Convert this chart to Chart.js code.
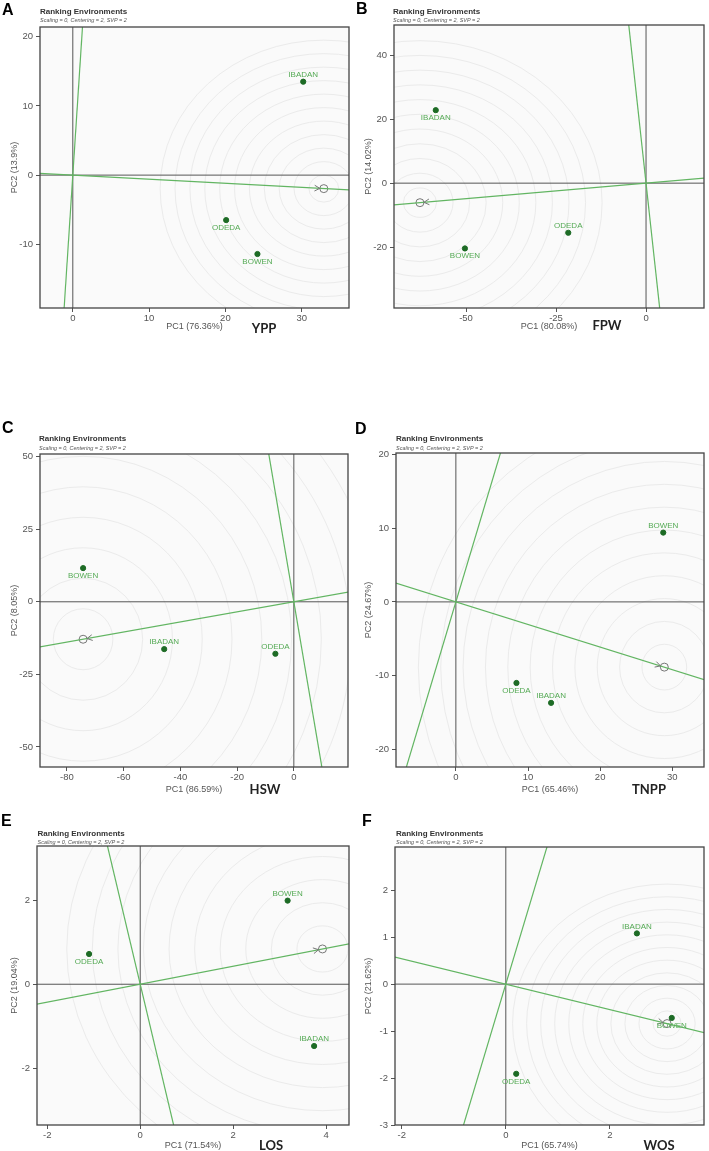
<!DOCTYPE html>
<html>
<head>
<meta charset="utf-8">
<script src="https://cdn.jsdelivr.net/npm/chart.js@4.4.0/dist/chart.umd.min.js"></script>
<style>
  body { margin: 0; background: #fff; width: 709px; height: 1151px; position: relative; overflow: hidden;
         font-family: "Liberation Sans", Arial, sans-serif; }
  canvas { position: absolute; }
  .lbl { position: absolute; white-space: nowrap; line-height: 1; }
  .letter { font-weight: bold; font-size: 16px; color: #000; }
  .ttl { font-weight: bold; font-size: 8px; color: #333; }
  .sub { font-style: italic; font-size: 5.5px; color: #555; }
  .trait { font-family: Lato, "Open Sans", sans-serif; font-weight: bold; font-size: 13px; color: #222;
           transform: translateX(-50%); }
</style>
</head>
<body>
<script>
// environments, same order in every panel
const envNames = ['IBADAN', 'BOWEN', 'ODEDA'];

// A - YPP
const yppPC1 = [30.2, 24.2, 20.1];
const yppPC2 = [13.5, -11.4, -6.5];
const yppIdeal = [32.9, -1.95];
const yppXTicks = [0, 10, 20, 30];
const yppYTicks = [-10, 0, 10, 20];

// B - FPW
const fpwPC1 = [-58.4, -50.3, -21.6];
const fpwPC2 = [22.8, -20.4, -15.5];
const fpwIdeal = [-62.8, -6.1];
const fpwXTicks = [-50, -25, 0];
const fpwYTicks = [-20, 0, 20, 40];

// C - HSW
const hswPC1 = [-45.7, -74.3, -6.5];
const hswPC2 = [-16.3, 11.6, -17.9];
const hswIdeal = [-74.3, -12.9];
const hswXTicks = [-80, -60, -40, -20, 0];
const hswYTicks = [-50, -25, 0, 25, 50];

// D - TNPP
const tnppPC1 = [13.2, 28.75, 8.4];
const tnppPC2 = [-13.7, 9.4, -11.0];
const tnppIdeal = [28.9, -8.85];
const tnppXTicks = [0, 10, 20, 30];
const tnppYTicks = [-20, -10, 0, 10, 20];

// E - LOS
const losPC1 = [3.74, 3.17, -1.1];
const losPC2 = [-1.47, 1.99, 0.72];
const losIdeal = [3.92, 0.84];
const losXTicks = [-2, 0, 2, 4];
const losYTicks = [-2, 0, 2];

// F - WOS
const wosPC1 = [2.52, 3.19, 0.2];
const wosPC2 = [1.08, -0.72, -1.91];
const wosIdeal = [3.1, -0.84];
const wosXTicks = [-2, 0, 2];
const wosYTicks = [-3, -2, -1, 0, 1, 2];

const FONT = '"Liberation Sans", Arial, sans-serif';

const panels = [
  { letter: 'A', trait: 'YPP', pc1: yppPC1, pc2: yppPC2, ideal: yppIdeal, xt: yppXTicks, yt: yppYTicks,
    xTitle: 'PC1 (76.36%)', yTitle: 'PC2 (13.9%)', xr: [-4.3, 36.2], yr: [-19.2, 21.4],
    ring: [1.95, 11], lab: [1, -1, -1],
    box: [0, 0, 354, 332], area: [40, 27, 350, 308],
    letterPos: [2, 1.5], ttlPos: [40, 7.9, 18], traitPos: [264, 322] },
  { letter: 'B', trait: 'FPW', pc1: fpwPC1, pc2: fpwPC2, ideal: fpwIdeal, xt: fpwXTicks, yt: fpwYTicks,
    xTitle: 'PC1 (80.08%)', yTitle: 'PC2 (14.02%)', xr: [-70, 16.1], yr: [-39, 49.4],
    ring: [4.6, 11], lab: [-1, -1, 1],
    box: [354, 0, 355, 332], area: [394, 25, 704, 308],
    letterPos: [356, 1], ttlPos: [393, 7.9, 18], traitPos: [607, 319] },
  { letter: 'C', trait: 'HSW', pc1: hswPC1, pc2: hswPC2, ideal: hswIdeal, xt: hswXTicks, yt: hswYTicks,
    xTitle: 'PC1 (86.59%)', yTitle: 'PC2 (8.05%)', xr: [-89.5, 19.1], yr: [-56.9, 50.9],
    ring: [10.5, 10], lab: [1, -1, 1],
    box: [0, 380, 354, 415], area: [40, 454, 348, 767],
    letterPos: [2, 420], ttlPos: [39, 434.5, 445.7], traitPos: [265, 783] },
  { letter: 'D', trait: 'TNPP', pc1: tnppPC1, pc2: tnppPC2, ideal: tnppIdeal, xt: tnppXTicks, yt: tnppYTicks,
    xTitle: 'PC1 (65.46%)', yTitle: 'PC2 (24.67%)', xr: [-8.3, 34.4], yr: [-22.4, 20.2],
    ring: [3.1, 11], lab: [1, 1, -1],
    box: [354, 380, 355, 415], area: [396, 453, 704, 767],
    letterPos: [355, 421], ttlPos: [396, 435.2, 446.4], traitPos: [649, 783] },
  { letter: 'E', trait: 'LOS', pc1: losPC1, pc2: losPC2, ideal: losIdeal, xt: losXTicks, yt: losYTicks,
    xTitle: 'PC1 (71.54%)', yTitle: 'PC2 (19.04%)', xr: [-2.22, 4.49], yr: [-3.35, 3.29],
    ring: [0.55, 10], lab: [1, 1, -1],
    box: [0, 760, 354, 391], area: [37, 846, 350, 1125],
    letterPos: [1, 813], ttlPos: [37.5, 829.5, 839.7], traitPos: [271, 1139] },
  { letter: 'F', trait: 'WOS', pc1: wosPC1, pc2: wosPC2, ideal: wosIdeal, xt: wosXTicks, yt: wosYTicks,
    xTitle: 'PC1 (65.74%)', yTitle: 'PC2 (21.62%)', xr: [-2.13, 3.81], yr: [-3.0, 2.92],
    ring: [0.27, 11], lab: [1, -1, -1],
    box: [354, 760, 355, 391], area: [395, 847, 707, 1125],
    letterPos: [362, 813], ttlPos: [396, 830.2, 840.4], traitPos: [659, 1139] }
];

function addText(cls, text, x, y) {
  const d = document.createElement('div');
  d.className = 'lbl ' + cls;
  d.textContent = text;
  d.style.left = x + 'px';
  d.style.top = y + 'px';
  document.body.appendChild(d);
}

// a long line through the origin along dir, clipped by the chart area
function lineThrough(dir) {
  return [{ x: -20 * dir[0], y: -20 * dir[1] }, { x: 20 * dir[0], y: 20 * dir[1] }];
}

// rings, zero axes, frame, arrow and env labels
function ggePlugin(p) {
  return {
    id: 'gge' + p.letter,
    beforeDatasetsDraw(chart) {
      const ctx = chart.ctx, a = chart.chartArea;
      const xs = chart.scales.x, ys = chart.scales.y;
      ctx.save();
      ctx.fillStyle = '#fafafa';
      ctx.fillRect(a.left, a.top, a.width, a.height);
      ctx.beginPath();
      ctx.rect(a.left, a.top, a.width, a.height);
      ctx.clip();
      const cx = xs.getPixelForValue(p.ideal[0]), cy = ys.getPixelForValue(p.ideal[1]);
      const ux = Math.abs(xs.getPixelForValue(1) - xs.getPixelForValue(0));
      const uy = Math.abs(ys.getPixelForValue(1) - ys.getPixelForValue(0));
      ctx.strokeStyle = '#ebebeb';
      ctx.lineWidth = 1;
      for (let k = 1; k <= p.ring[1]; k++) {
        ctx.beginPath();
        ctx.ellipse(cx, cy, k * p.ring[0] * ux, k * p.ring[0] * uy, 0, 0, Math.PI * 2);
        ctx.stroke();
      }
      // zero lines
      const ox = xs.getPixelForValue(0), oy = ys.getPixelForValue(0);
      ctx.strokeStyle = '#555';
      ctx.lineWidth = 1;
      ctx.beginPath();
      ctx.moveTo(ox, a.top); ctx.lineTo(ox, a.bottom);
      ctx.moveTo(a.left, oy); ctx.lineTo(a.right, oy);
      ctx.stroke();
      ctx.restore();
    },
    afterDatasetsDraw(chart) {
      const ctx = chart.ctx, a = chart.chartArea;
      const xs = chart.scales.x, ys = chart.scales.y;
      ctx.save();
      // arrow head pointing at the ideal environment
      const cx = xs.getPixelForValue(p.ideal[0]), cy = ys.getPixelForValue(p.ideal[1]);
      const ox = xs.getPixelForValue(0), oy = ys.getPixelForValue(0);
      const ang = Math.atan2(cy - oy, cx - ox);
      const tx = cx - 4 * Math.cos(ang), ty = cy - 4 * Math.sin(ang);
      ctx.strokeStyle = '#777';
      ctx.lineWidth = 1;
      ctx.beginPath();
      ctx.moveTo(tx - 6 * Math.cos(ang - 0.5), ty - 6 * Math.sin(ang - 0.5));
      ctx.lineTo(tx, ty);
      ctx.lineTo(tx - 6 * Math.cos(ang + 0.5), ty - 6 * Math.sin(ang + 0.5));
      ctx.stroke();
      // environment labels
      ctx.fillStyle = '#55aa55';
      ctx.font = '8px ' + FONT;
      ctx.textAlign = 'center';
      ctx.textBaseline = 'middle';
      chart.getDatasetMeta(2).data.forEach((pt, i) => {
        ctx.fillText(envNames[i], pt.x, pt.y + (p.lab[i] > 0 ? -7 : 7.5));
      });
      // frame
      ctx.strokeStyle = '#444';
      ctx.lineWidth = 1.3;
      ctx.strokeRect(a.left, a.top, a.width, a.height);
      ctx.restore();
    }
  };
}

function axis(p, isX) {
  const [bl, bt, bw, bh] = p.box;
  const [L, T, R, B] = p.area;
  const ticks = isX ? p.xt : p.yt;
  const range = isX ? p.xr : p.yr;
  return {
    type: 'linear',
    position: isX ? 'bottom' : 'left',
    min: range[0],
    max: range[1],
    afterBuildTicks: s => { s.ticks = ticks.map(v => ({ value: v })); },
    afterFit: s => {
      if (isX) s.height = bt + bh - B;
      else s.width = L - bl;
    },
    ticks: { color: '#555', font: { family: FONT, size: 9.5 }, padding: isX ? 1 : 3 },
    grid: { drawOnChartArea: false, drawTicks: true, tickLength: 4, color: '#555' },
    border: { display: false },
    title: {
      display: true,
      text: isX ? p.xTitle : p.yTitle,
      color: '#555',
      font: { family: FONT, size: 9 },
      padding: isX ? { top: 0, bottom: 0 } : { top: 9, bottom: 0 }
    }
  };
}

panels.forEach(p => {
  const [bl, bt, bw, bh] = p.box;
  const [L, T, R, B] = p.area;
  const cv = document.createElement('canvas');
  cv.width = bw;
  cv.height = bh;
  cv.style.left = bl + 'px';
  cv.style.top = bt + 'px';
  cv.style.width = bw + 'px';
  cv.style.height = bh + 'px';
  document.body.appendChild(cv);

  const envPoints = p.pc1.map((x, i) => ({ x: x, y: p.pc2[i] }));

  new Chart(cv.getContext('2d'), {
    type: 'scatter',
    data: {
      datasets: [
        { data: lineThrough(p.ideal), showLine: true, borderColor: '#62b562', borderWidth: 1.2, pointRadius: 0 },
        { data: lineThrough([-p.ideal[1], p.ideal[0]]), showLine: true, borderColor: '#62b562', borderWidth: 1.2, pointRadius: 0 },
        { data: envPoints, pointRadius: 2.6, backgroundColor: '#1d6b25', borderColor: '#1d6b25', borderWidth: 1 },
        { data: [{ x: p.ideal[0], y: p.ideal[1] }], pointRadius: 4, backgroundColor: 'rgba(0,0,0,0)', borderColor: '#777', borderWidth: 1 }
      ]
    },
    options: {
      responsive: false,
      animation: false,
      devicePixelRatio: 1,
      layout: { padding: { top: T - bt, right: bl + bw - R, left: 0, bottom: 0 } },
      plugins: { legend: { display: false }, title: { display: false }, tooltip: { enabled: false } },
      scales: { x: axis(p, true), y: axis(p, false) }
    },
    plugins: [ggePlugin(p)]
  });

  addText('letter', p.letter, p.letterPos[0], p.letterPos[1]);
  addText('ttl', 'Ranking Environments', p.ttlPos[0], p.ttlPos[1]);
  addText('sub', 'Scaling = 0, Centering = 2, SVP = 2', p.ttlPos[0], p.ttlPos[2]);
  addText('trait', p.trait, p.traitPos[0], p.traitPos[1]);
});
</script>
</body>
</html>
